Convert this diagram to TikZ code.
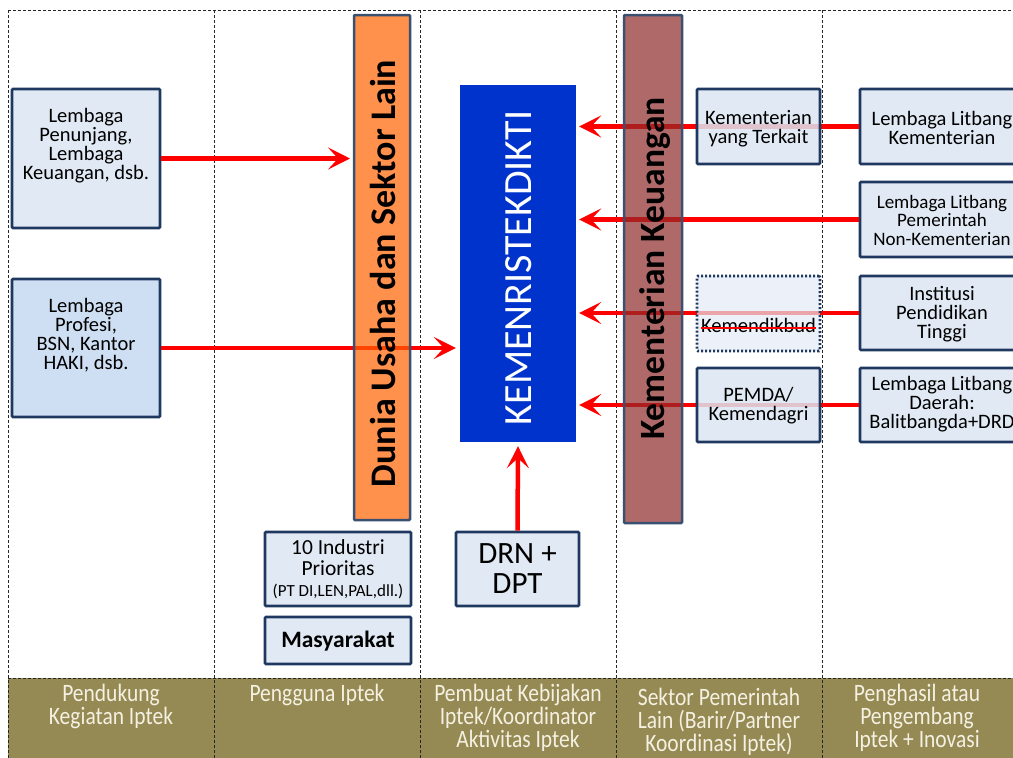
\documentclass[tikz,border=0pt]{standalone}
\usepackage{fontspec}
\setmainfont{Carlito}
\newfontfamily\bandfont[FakeStretch=0.86]{Carlito}
\usetikzlibrary{arrows.meta}
\definecolor{navy}{RGB}{31,56,96}
\definecolor{barline}{RGB}{58,80,112}
\definecolor{boxfill}{RGB}{220,230,242}
\definecolor{boxfillb}{RGB}{198,217,241}
\definecolor{boxfillc}{RGB}{228,234,245}
\definecolor{orangebar}{RGB}{255,98,0}
\definecolor{kemblue}{RGB}{0,51,204}
\definecolor{keubar}{RGB}{142,42,42}
\definecolor{olive}{RGB}{150,138,84}
\definecolor{bandtext}{RGB}{245,241,226}
\begin{document}
\begin{tikzpicture}[x=1pt,y=-1pt,
  box/.style={draw=navy,line width=2.6pt,fill=boxfill,fill opacity=0.85,text opacity=1,draw opacity=1,rounded corners=1pt,inner sep=0pt},
  txt/.style={align=center,font=\fontsize{20.5}{19}\selectfont,text=black,inner sep=0pt},
  arr/.style={draw=red,line width=4.5pt,-{Stealth[length=22pt,width=22pt,inset=10pt]}},
  sep/.style={draw=black!85,dash pattern=on 3pt off 2pt,line width=0.8pt},
  bandtxt/.style={align=center,anchor=north,text=bandtext,font=\bandfont\fontsize{25}{23}\selectfont,inner sep=0pt}]
\useasboundingbox (0,0) rectangle (1013,758);
\clip (0,0) rectangle (1013,758);
% bottom band
\fill[olive] (8,678) rectangle (1020,760);
% separators
\draw[sep] (8,10) -- (1013,10);
\draw[sep] (8,678) -- (1013,678);
\foreach \xx in {8,214,420,616,822} {\draw[sep] (\xx,10) -- (\xx,758);}
% band texts
\node[bandtxt] (c1) at (111,684) {Pendukung\\Kegiatan Iptek};
\node[bandtxt] (c2) at (317,684) {Pengguna Iptek};
\node[bandtxt] (c3) at (518,684) {Pembuat Kebijakan\\Iptek/Koordinator\\Aktivitas Iptek};
\node[bandtxt] (c4) at (719,688) {Sektor Pemerintah\\Lain (Barir/Partner\\Koordinasi Iptek)};
\node[bandtxt] (c5) at (917,684) {Penghasil atau\\Pengembang\\Iptek + Inovasi};
% KEMENRISTEKDIKTI
\node[fill=kemblue,minimum width=116pt,minimum height=357pt,inner sep=0pt] (kem) at (518,263.5) {};
\node[rotate=90,text=white,font=\fontsize{40}{40}\selectfont,inner sep=0pt] (kemt) at (519,268) {KEMENRISTEKDIKTI};
% left boxes
\node[box,minimum width=148pt,minimum height=139pt] (pen) at (86,158.5) {};
\node[box,fill=boxfillb,minimum width=148pt,minimum height=138pt] (pro) at (86,348) {};
% right boxes
\node[box,minimum width=164pt,minimum height=75pt] (r1) at (942,126.5) {};
\node[box,minimum width=164pt,minimum height=75pt] (r2) at (942,219.5) {};
\node[box,minimum width=164pt,minimum height=74pt] (r3) at (942,313) {};
\node[box,minimum width=164pt,minimum height=74pt] (r4) at (942,405) {};
% lower boxes
\node[box,minimum width=146pt,minimum height=74pt] (ind) at (338,569) {};
\node[box,minimum width=146pt,minimum height=47pt] (mas) at (338,640.5) {};
\node[box,minimum width=123pt,minimum height=74pt] (drn) at (517.5,569) {};
% arrows (drawn before the bars, which lie over them)
\draw[arr] (pen.east) -- (350,158.5);
\draw[arr] (pro.east) -- ([xshift=-4pt]kem.west |- pro.east);
\draw[arr] (r1.west) -- ([xshift=3pt]kem.east |- r1.west);
\draw[arr] (r2.west) -- ([xshift=3pt]kem.east |- r2.west);
\draw[arr] (r3.west) -- ([xshift=3pt]kem.east |- r3.west);
\draw[arr] (r4.west) -- ([xshift=3pt]kem.east |- r4.west);
\draw[arr] (drn.north) -- ([yshift=-4pt]kem.south);
% bars
\node[draw=barline,line width=2.5pt,fill=orangebar,fill opacity=0.7,draw opacity=1,text opacity=1,minimum width=56pt,minimum height=505pt,rounded corners=1pt,inner sep=0pt] (dun) at (382,267.5) {};
\node[rotate=90,font=\bfseries\fontsize{36}{36}\selectfont,inner sep=0pt] (dunt) at (383,273.5) {Dunia Usaha dan Sektor Lain};
\node[draw=barline,line width=2.5pt,fill=keubar,fill opacity=0.7,draw opacity=1,text opacity=1,minimum width=58pt,minimum height=508pt,rounded corners=1pt,inner sep=0pt] (keu) at (653,269) {};
\node[rotate=90,font=\bfseries\fontsize{35.5}{35}\selectfont,inner sep=0pt] (keut) at (655,268.5) {Kementerian Keuangan};
% middle boxes
\node[box,minimum width=123pt,minimum height=75pt] (kyt) at (758.5,126.5) {};
\node[box,fill=boxfillc,fill opacity=0.7,dash pattern=on 2pt off 2pt,minimum width=123pt,minimum height=75pt] (kdb) at (758.5,313.5) {};
\node[box,minimum width=123pt,minimum height=74pt] (pem) at (758.5,405) {};
% texts
\node[txt] (pent) at (86,146) {Lembaga\\Penunjang,\\Lembaga\\Keuangan, dsb.};
\node[txt] (prot) at (86,335) {Lembaga\\Profesi,\\BSN, Kantor\\HAKI, dsb.};
\node[txt] (kytt) at (758.5,129) {Kementerian\\yang Terkait};
\node[txt] (kdbt) at (758.5,325) {Kemendikbud};
\draw[red,line width=1.2pt] ([yshift=4pt]kdbt.base west) -- ([yshift=4pt]kdbt.base east);
\node[txt] (pemt) at (758.5,406) {PEMDA/\\Kemendagri};
\node[txt] (r1t) at (942,128) {Lembaga Litbang\\Kementerian};
\node[txt,font=\fontsize{19}{18.5}\selectfont] (r2t) at (942,220) {Lembaga Litbang\\Pemerintah\\Non-Kementerian};
\node[txt] (r3t) at (942,314) {Institusi\\Pendidikan\\Tinggi};
\node[txt] (r4t) at (942,404) {Lembaga Litbang\\Daerah:\\Balitbangda+DRD};
\node[txt,font=\fontsize{21.5}{21}\selectfont] (indt) at (338,569) {10 Industri\\Prioritas\\{\fontsize{17}{17}\selectfont (PT DI,LEN,PAL,dll.)}};
\node[txt,font=\bfseries\fontsize{23.5}{23}\selectfont] (mast) at (338,641) {Masyarakat};
\node[txt,font=\fontsize{31}{30}\selectfont] (drnt) at (517.5,569) {DRN +\\DPT};
\end{tikzpicture}
\end{document}
